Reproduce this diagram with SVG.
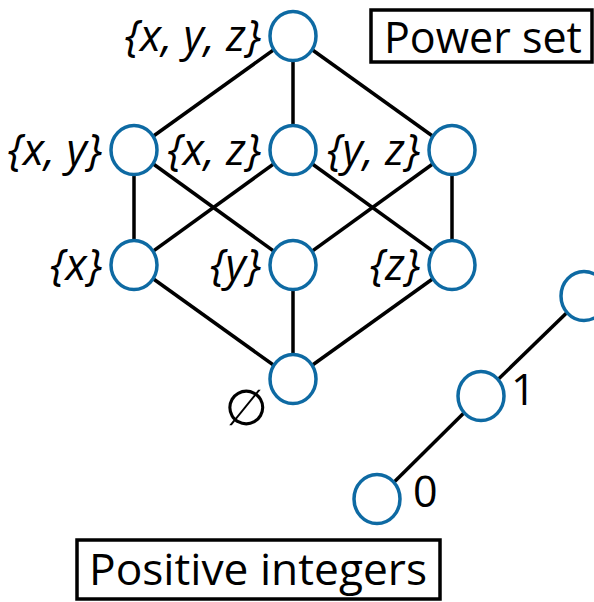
<svg xmlns="http://www.w3.org/2000/svg" width="594" height="602" viewBox="0 0 594 602">
<style>
.e{stroke:#000;stroke-width:3.5;fill:none}
.n{fill:#fff;stroke:#0e6aa3;stroke-width:3.5}
.l{font-family:"Open Sans","DejaVu Sans",sans-serif;font-style:italic;font-size:44px;text-anchor:end;fill:#000}
.t{font-family:"Open Sans","DejaVu Sans",sans-serif;font-size:43px;fill:#000}
.b{fill:#fff;stroke:#000;stroke-width:3.5}
</style>
<rect width="594" height="602" fill="#fff"/>
<g id="connectors">
<line class="e" x1="293" y1="36" x2="134" y2="150"/>
<line class="e" x1="293" y1="36" x2="293" y2="150"/>
<line class="e" x1="293" y1="36" x2="452" y2="150"/>
<line class="e" x1="134" y1="150" x2="134" y2="265"/>
<line class="e" x1="134" y1="150" x2="293" y2="265"/>
<line class="e" x1="293" y1="150" x2="134" y2="265"/>
<line class="e" x1="293" y1="150" x2="452" y2="265"/>
<line class="e" x1="452" y1="150" x2="293" y2="265"/>
<line class="e" x1="452" y1="150" x2="452" y2="265"/>
<line class="e" x1="134" y1="265" x2="293" y2="379"/>
<line class="e" x1="293" y1="265" x2="293" y2="379"/>
<line class="e" x1="452" y1="265" x2="293" y2="379"/>
<line class="e" x1="377" y1="499" x2="481" y2="396"/>
<line class="e" x1="481" y1="396" x2="584" y2="296"/>
</g>
<g id="xyz"><ellipse class="n" cx="293" cy="36" rx="23" ry="24.5"/><text class="l" x="261" y="51">{x, y, z}</text></g>
<g id="xy"><ellipse class="n" cx="134" cy="150" rx="23" ry="24.5"/><text class="l" x="102" y="165">{x, y}</text></g>
<g id="xz"><ellipse class="n" cx="293" cy="150" rx="23" ry="24.5"/><text class="l" x="261" y="165">{x, z}</text></g>
<g id="yz"><ellipse class="n" cx="452" cy="150" rx="23" ry="24.5"/><text class="l" x="420" y="165">{y, z}</text></g>
<g id="x"><ellipse class="n" cx="134" cy="265" rx="23" ry="24.5"/><text class="l" x="102" y="280">{x}</text></g>
<g id="y"><ellipse class="n" cx="293" cy="265" rx="23" ry="24.5"/><text class="l" x="261" y="280">{y}</text></g>
<g id="z"><ellipse class="n" cx="452" cy="265" rx="23" ry="24.5"/><text class="l" x="420" y="280">{z}</text></g>
<g id="empty"><ellipse class="n" cx="293" cy="379" rx="23" ry="24.5"/><text class="l" x="268" y="425" style="font-size:50px">∅</text></g>
<g id="n0"><ellipse class="n" cx="377" cy="499" rx="23" ry="24.5"/><text class="t" x="413" y="507">0</text></g>
<g id="n1"><ellipse class="n" cx="481" cy="396" rx="23" ry="24.5"/><text class="t" x="511" y="405">1</text></g>
<g id="n2"><ellipse class="n" cx="584" cy="296" rx="23" ry="24.5"/></g>
<g id="powerset"><rect class="b" x="371" y="10" width="221" height="52"/><text class="t" x="384" y="53">Power set</text></g>
<g id="posint"><rect class="b" x="77" y="540" width="363" height="59"/><text class="t" x="89" y="585" textLength="338" lengthAdjust="spacingAndGlyphs">Positive integers</text></g>
</svg>
